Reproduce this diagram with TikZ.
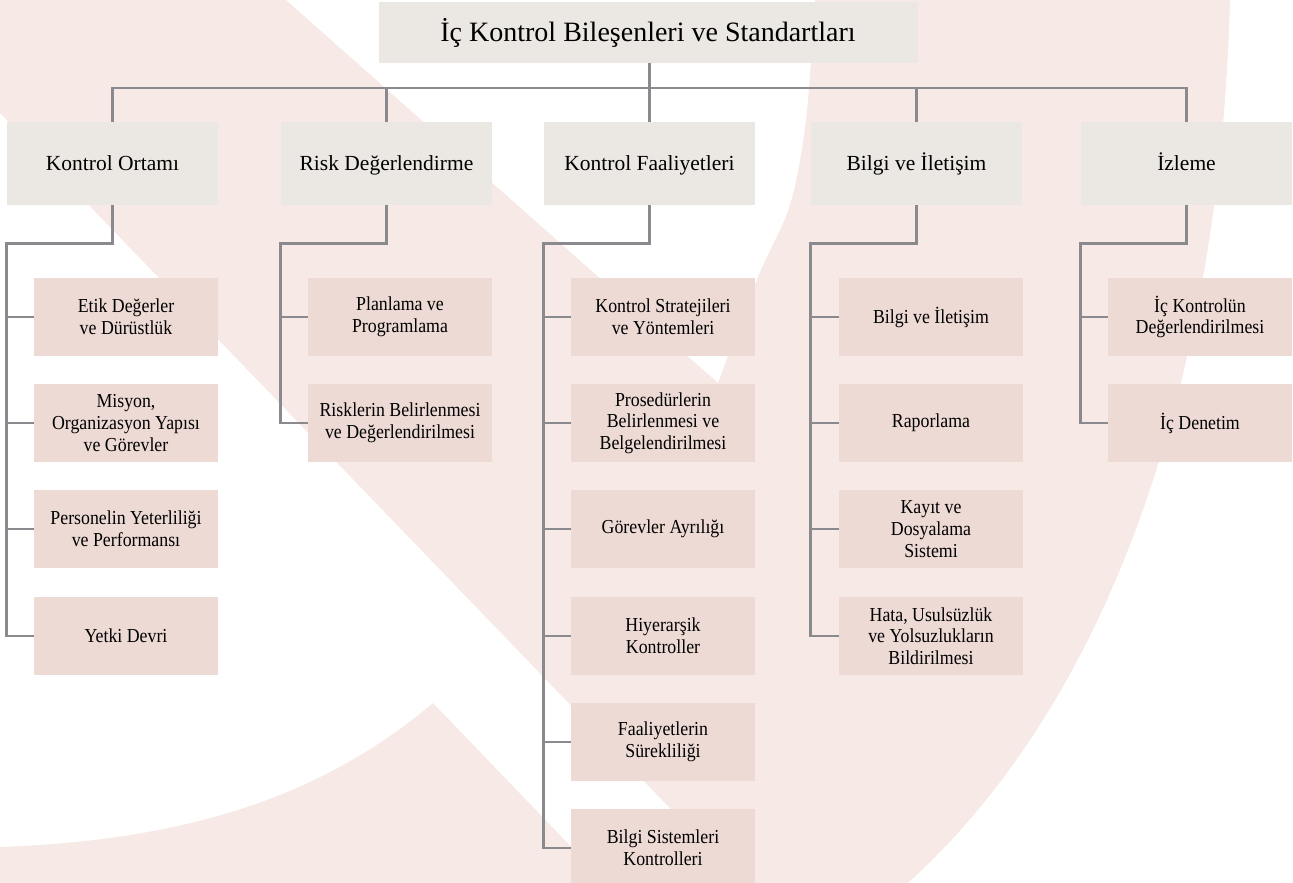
\documentclass[tikz,border=0pt]{standalone}
\usepackage{fontspec}
\setmainfont{Liberation Serif}
\newfontfamily\narrowserif{Liberation Serif}[FakeStretch=0.9]
\usepackage{tikz}

\definecolor{bgpink}{RGB}{247,234,230}
\definecolor{headfill}{RGB}{235,231,226}
\definecolor{itemfill}{RGB}{237,218,212}
\definecolor{linegray}{RGB}{138,138,142}

\begin{document}
\begin{tikzpicture}[x=1pt,y=-1pt]
		\tikzstyle{every node}+=[inner sep=0pt]
		\tikzstyle{titlebox}=[fill=headfill, minimum width=539pt, minimum height=61pt, text height=18.5pt, text depth=0pt, font=\fontsize{28}{33}\selectfont]
		\tikzstyle{headbox}=[fill=headfill, minimum width=211pt, minimum height=83pt, text height=14.2pt, text depth=0pt, font=\fontsize{21.5}{25}\selectfont]
		\tikzstyle{itembox}=[fill=itemfill, minimum width=184pt, minimum height=78pt, align=center, font=\narrowserif\fontsize{19.8}{21.7}\selectfont]
		\tikzstyle{conn}=[draw=linegray, line width=2.7pt]
		\useasboundingbox (0,0) rectangle (1293,883);
		% background
		\fill [bgpink] (0,0) -- (286,0) -- (718,383)
			-- plot[smooth] coordinates {(718,383) (758,277) (790,205) (806,120) (815,0)}
			-- (1230,0) .. controls (1220,380) and (1110,700) .. (908,883) -- (742,883) -- (0,113) -- cycle;
		\fill [bgpink] (0,847) .. controls (200,840) and (330,790) .. (433,703) -- (606,883) -- (0,883) -- cycle;
		% title and components
		\node [titlebox] (title) at (648,32.5) {İç Kontrol Bileşenleri ve Standartları};
		\node [headbox] (ko) at (112.5,163.5) {Kontrol Ortamı};
		\node [headbox] (rd) at (386.5,163.5) {Risk Değerlendirme};
		\node [headbox] (kf) at (649.5,163.5) {Kontrol Faaliyetleri};
		\node [headbox] (bi) at (916.5,163.5) {Bilgi ve İletişim};
		\node [headbox] (iz) at (1186.5,163.5) {İzleme};
		% standards
		\node [itembox] (ko1) at (126,317) {Etik Değerler\\ve Dürüstlük};
		\node [itembox] (ko2) at (126,423) {Misyon,\\Organizasyon Yapısı\\ve Görevler};
		\node [itembox] (ko3) at (126,529) {Personelin Yeterliliği\\ve Performansı};
		\node [itembox] (ko4) at (126,636) {Yetki Devri};
		\node [itembox] (rd1) at (400,317) {Planlama ve\\Programlama};
		\node [itembox] (rd2) at (400,423) {Risklerin Belirlenmesi\\ve Değerlendirilmesi};
		\node [itembox] (kf1) at (663,317) {Kontrol Stratejileri\\ve Yöntemleri};
		\node [itembox] (kf2) at (663,423) {Prosedürlerin\\Belirlenmesi ve\\Belgelendirilmesi};
		\node [itembox] (kf3) at (663,529) {Görevler Ayrılığı};
		\node [itembox] (kf4) at (663,636) {Hiyerarşik\\Kontroller};
		\node [itembox] (kf5) at (663,742) {Faaliyetlerin\\Sürekliliği};
		\node [itembox] (kf6) at (663,848) {Bilgi Sistemleri\\Kontrolleri};
		\node [itembox] (bi1) at (931,317) {Bilgi ve İletişim};
		\node [itembox] (bi2) at (931,423) {Raporlama};
		\node [itembox] (bi3) at (931,529) {Kayıt ve\\Dosyalama\\Sistemi};
		\node [itembox] (bi4) at (931,636) {Hata, Usulsüzlük\\ve Yolsuzlukların\\Bildirilmesi};
		\node [itembox] (iz1) at (1200,317) {İç Kontrolün\\Değerlendirilmesi};
		\node [itembox] (iz2) at (1200,423) {İç Denetim};
		% top bus
		\coordinate (bus) at (649.5,88);
		\draw [conn] (ko.north) |- (bus) -| (iz.north);
		\draw [conn] (title.south -| kf.north) -- (kf.north);
		\draw [conn] (rd.north) -- (rd.north |- bus);
		\draw [conn] (bi.north) -- (bi.north |- bus);
		% spines
		\draw [conn] (ko.south) -- ++(0,38) -| (ko.west |- ko4.west) -- (ko4.west);
		\draw [conn] (ko.west |- ko1.west) -- (ko1.west);
		\draw [conn] (ko.west |- ko2.west) -- (ko2.west);
		\draw [conn] (ko.west |- ko3.west) -- (ko3.west);
		\draw [conn] (rd.south) -- ++(0,38) -| (rd.west |- rd2.west) -- (rd2.west);
		\draw [conn] (rd.west |- rd1.west) -- (rd1.west);
		\draw [conn] (kf.south) -- ++(0,38) -| (kf.west |- kf6.west) -- (kf6.west);
		\draw [conn] (kf.west |- kf1.west) -- (kf1.west);
		\draw [conn] (kf.west |- kf2.west) -- (kf2.west);
		\draw [conn] (kf.west |- kf3.west) -- (kf3.west);
		\draw [conn] (kf.west |- kf4.west) -- (kf4.west);
		\draw [conn] (kf.west |- kf5.west) -- (kf5.west);
		\draw [conn] (bi.south) -- ++(0,38) -| (bi.west |- bi4.west) -- (bi4.west);
		\draw [conn] (bi.west |- bi1.west) -- (bi1.west);
		\draw [conn] (bi.west |- bi2.west) -- (bi2.west);
		\draw [conn] (bi.west |- bi3.west) -- (bi3.west);
		\draw [conn] (iz.south) -- ++(0,38) -| (iz.west |- iz2.west) -- (iz2.west);
		\draw [conn] (iz.west |- iz1.west) -- (iz1.west);
	\end{tikzpicture}
\end{document}
